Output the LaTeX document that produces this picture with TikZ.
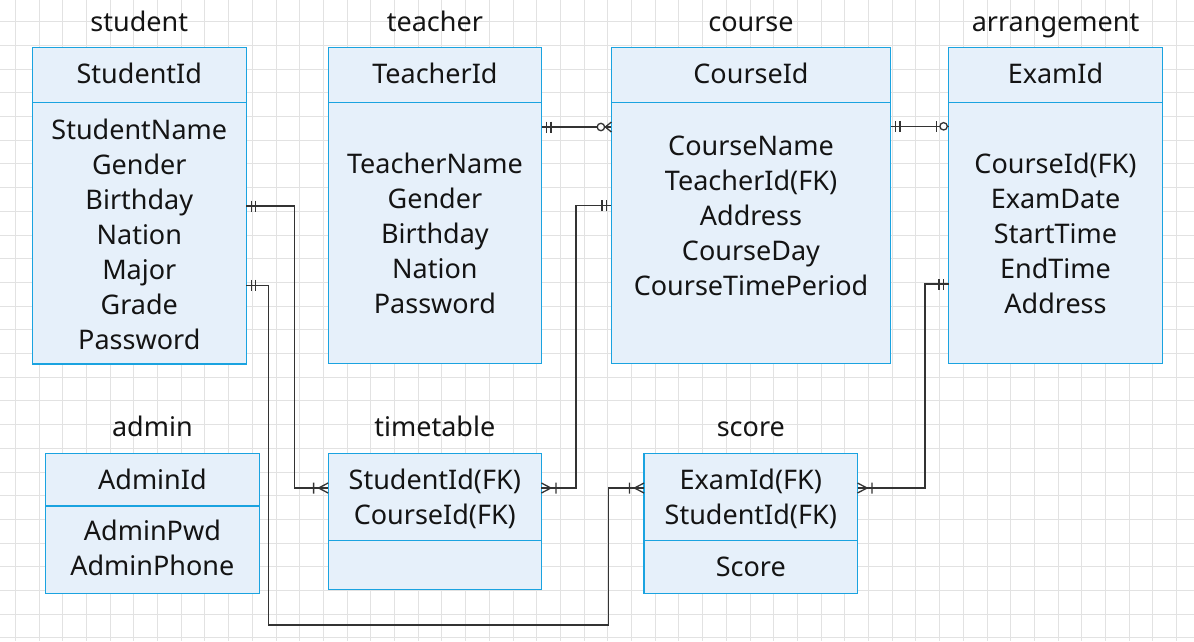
\documentclass[tikz,border=0pt]{standalone}
\usepackage{fontspec}
\setmainfont{Noto Sans}
\definecolor{gridc}{HTML}{E2E2E2}
\definecolor{boxc}{HTML}{1AA3E0}
\definecolor{boxf}{HTML}{E6F0FA}
\definecolor{linec}{HTML}{333333}
\definecolor{txtc}{HTML}{141414}
\tikzset{
  gridline/.style={draw=gridc, line width=1pt},
  conn/.style={draw=linec, line width=1.3pt},
  ebox/.style={draw=boxc, fill=boxf, line width=1.2pt, rectangle, inner sep=0pt, outer sep=0pt, anchor=north west},
  lbl/.style={font=\fontsize{27}{35}\selectfont, text=txtc, align=center, anchor=base, inner sep=0pt},
  mandone/.pic={\draw[conn] (5,-5.5) -- (5,5.5) (9.5,-5.5) -- (9.5,5.5);},
  onemany/.pic={\draw[conn] (0,-5) -- (9.5,0) -- (0,5) (14.5,-5.5) -- (14.5,5.5);},
  zeromany/.pic={\draw[conn] (0,-5) -- (6,0) -- (0,5); \draw[conn, fill=white] (10.5,0) circle (3.7);},
  zeroone/.pic={\draw[conn] (12.3,-5.5) -- (12.3,5.5); \draw[conn, fill=white] (5,0) circle (3.7);}
}
\begin{document}
\begin{tikzpicture}[x=1pt, y=-1pt]
\useasboundingbox (0,0) rectangle (1194,641);
\fill[white] (0,0) rectangle (1194,641);
% grid
\foreach \k in {0,...,49} { \draw[gridline] ({15.3+23.7*\k},0) -- ({15.3+23.7*\k},641); }
\foreach \k in {0,...,26} { \draw[gridline] (0,{21.7+23.7*\k}) -- (1194,{21.7+23.7*\k}); }

% entity boxes
\node[ebox, minimum width=213.9pt, minimum height=55pt] (stuH) at (32.4,47.3) {};
\node[ebox, minimum width=213.9pt, minimum height=261.7pt] (stuB) at (32.4,102.3) {};
\node[ebox, minimum width=213.4pt, minimum height=55pt] (teaH) at (328.2,47.3) {};
\node[ebox, minimum width=213.4pt, minimum height=261pt] (teaB) at (328.2,102.3) {};
\node[ebox, minimum width=279.1pt, minimum height=55pt] (couH) at (611.4,47.3) {};
\node[ebox, minimum width=279.1pt, minimum height=261pt] (couB) at (611.4,102.3) {};
\node[ebox, minimum width=213.7pt, minimum height=55pt] (arrH) at (948.6,47.3) {};
\node[ebox, minimum width=213.7pt, minimum height=261pt] (arrB) at (948.6,102.3) {};
\node[ebox, minimum width=213.8pt, minimum height=52.7pt] (admH) at (45.5,453.3) {};
\node[ebox, minimum width=213.8pt, minimum height=87.3pt] (admB) at (45.5,506) {};
\node[ebox, minimum width=213.3pt, minimum height=87.4pt] (timH) at (328.1,453.3) {};
\node[ebox, minimum width=213.3pt, minimum height=48.6pt] (timB) at (328.1,540.7) {};
\node[ebox, minimum width=213.5pt, minimum height=87.4pt] (scoH) at (644,453.3) {};
\node[ebox, minimum width=213.5pt, minimum height=52.6pt] (scoB) at (644,540.7) {};

% titles
\node[lbl] (tStu) at (139.3,31.7) {student};
\node[lbl] (tTea) at (434.9,31.7) {teacher};
\node[lbl] (tCou) at (751,31.7) {course};
\node[lbl] (tArr) at (1055.5,31.7) {arrangement};
\node[lbl] (tAdm) at (152.4,436) {admin};
\node[lbl] (tTim) at (434.8,436) {timetable};
\node[lbl] (tSco) at (750.8,436) {score};

% fields (multi-line nodes are anchored at the baseline of their last line)
\node[lbl] (fStuH) at (139.3,83.3) {StudentId};
\node[lbl] (fStuB) at (139.3,349.3) {StudentName\\Gender\\Birthday\\Nation\\Major\\Grade\\Password};
\node[lbl] (fTeaH) at (434.9,83.3) {TeacherId};
\node[lbl] (fTeaB) at (434.9,313.3) {TeacherName\\Gender\\Birthday\\Nation\\Password};
\node[lbl] (fCouH) at (751,83.3) {CourseId};
\node[lbl] (fCouB) at (751,295.3) {CourseName\\TeacherId(FK)\\Address\\CourseDay\\CourseTimePeriod};
\node[lbl] (fArrH) at (1055.5,83.3) {ExamId};
\node[lbl] (fArrB) at (1055.5,313.3) {CourseId(FK)\\ExamDate\\StartTime\\EndTime\\Address};
\node[lbl] (fAdmH) at (152.4,489.3) {AdminId};
\node[lbl] (fAdmB) at (152.4,575.3) {AdminPwd\\AdminPhone};
\node[lbl] (fTimH) at (434.8,524.5) {StudentId(FK)\\CourseId(FK)};
\node[lbl] (fScoH) at (750.8,524.5) {ExamId(FK)\\StudentId(FK)};
\node[lbl] (fScoB) at (750.8,576) {Score};

% connectors
\draw[conn] (teaB.east |- 0,127) -- (couB.west |- 0,127);
\pic at (teaB.east |- 0,127) {mandone};
\pic[rotate=180] at (couB.west |- 0,127) {zeromany};

\draw[conn] (couB.east |- 0,126.3) -- (arrB.west |- 0,126.3);
\pic at (couB.east |- 0,126.3) {mandone};
\pic[rotate=180] at (arrB.west |- 0,126.3) {zeroone};

\draw[conn] (stuB.east |- 0,206) -| (294.5,488) -- (timH.west |- 0,488);
\pic at (stuB.east |- 0,206) {mandone};
\pic[rotate=180] at (timH.west |- 0,488) {onemany};

\draw[conn] (stuB.east |- 0,285.3) -| (268.6,625) -| (608.6,488) -- (scoH.west |- 0,488);
\pic at (stuB.east |- 0,285.3) {mandone};
\pic[rotate=180] at (scoH.west |- 0,488) {onemany};

\draw[conn] (timH.east |- 0,488) -| (576,205.5) -- (couB.west |- 0,205.5);
\pic at (timH.east |- 0,488) {onemany};
\pic[rotate=180] at (couB.west |- 0,205.5) {mandone};

\draw[conn] (scoH.east |- 0,488) -| (925,284) -- (arrB.west |- 0,284);
\pic at (scoH.east |- 0,488) {onemany};
\pic[rotate=180] at (arrB.west |- 0,284) {mandone};
\end{tikzpicture}
\end{document}
